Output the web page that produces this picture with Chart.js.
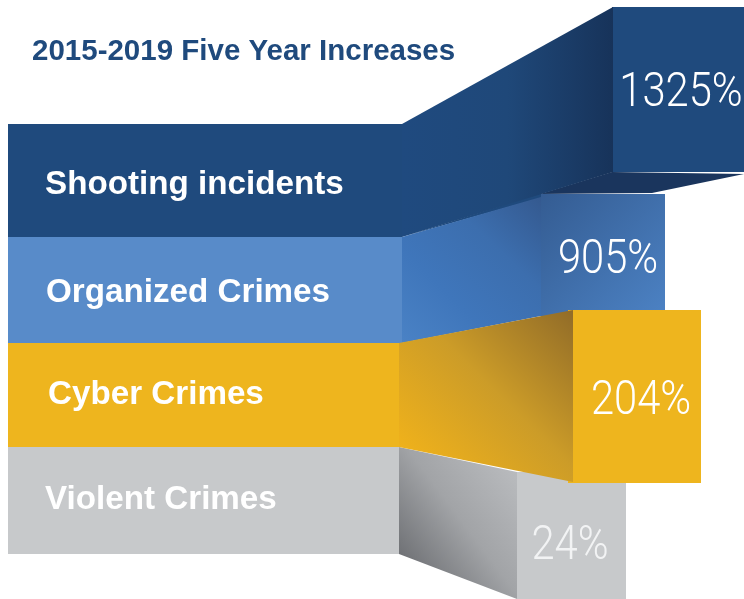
<!DOCTYPE html>
<html>
<head>
<meta charset="utf-8">
<title>2015-2019 Five Year Increases</title>
<script src="https://cdn.jsdelivr.net/npm/chart.js@4"></script>
<style>
  html, body { margin: 0; padding: 0; background: #fff; }
  canvas { display: block; }
</style>
</head>
<body>
<canvas id="funnel" width="744" height="599"></canvas>
<script>
const chartTitle = "2015-2019 Five Year Increases";
const categories = ["Shooting incidents", "Organized Crimes", "Cyber Crimes", "Violent Crimes"];
const increases = [1325, 905, 204, 24];

// shape edges, in axis units
const bandTop = [124, 237, 343, 447];
const bandBottom = [237, 343, 447, 554];
const bandRight = [402, 402, 399, 399];
const joinRight = [613, 541, 573, 517];
const joinTop = [7, 197, 310, 472];
const joinBottom = [172, 316, 482, 599];
const blockLeft = [612, 541, 568, 517];
const blockRight = [744, 665, 701, 626];
const blockTop = [7, 194, 310, 472];
const blockBottom = [172, 316, 483, 599];

const bandColors = ["#1f4a7d", "#588bc9", "#eeb51e", "#c7c9cb"];
const blockColors = [
  "#1f4a7d",
  [[541, 194, "#345c92"], [665, 316, "#4c82c4"]],
  "#eeb51e",
  "#c7c9cb"
];
const joinColors = [
  [[402, 124, "#1f4a7f"], [500, 124, "#1f4879"], [613, 124, "#17335a"]],
  [[402, 343, "#4a82c5"], [450, 300, "#3f76bb"], [495, 255, "#3c6eae"], [541, 197, "#34598f"]],
  [[410, 470, "#f2b31a"], [490, 390, "#cc9c28"], [573, 305, "#8f6a28"]],
  [[400, 560, "#6e7074"], [440, 500, "#a2a4a7"], [517, 472, "#b9bbbe"]]
];
const shadowColor = "#1a355d";

function paint(color) {
  if (typeof color === "string") return color;
  return function (context) {
    const chart = context.chart;
    if (!chart.chartArea) return color[0][2];
    const x = chart.scales.x, y = chart.scales.y;
    const first = color[0], last = color[color.length - 1];
    const g = chart.ctx.createLinearGradient(
      x.getPixelForValue(first[0]), y.getPixelForValue(first[1]),
      x.getPixelForValue(last[0]), y.getPixelForValue(last[1])
    );
    color.forEach((stop, i) => g.addColorStop(i / (color.length - 1), stop[2]));
    return g;
  };
}

function xy(xs, ys) {
  return xs.map((x, i) => ({ x: x, y: ys[i] }));
}

const datasets = [];

// an area is a pair of line datasets, filled from the upper edge to the lower one
function addArea(upper, lower, color) {
  const order = 1000 - datasets.length;
  datasets.push({
    data: upper, fill: "+1", backgroundColor: paint(color),
    borderWidth: 0, pointRadius: 0, tension: 0, order: order
  });
  datasets.push({
    data: lower, fill: false,
    borderWidth: 0, pointRadius: 0, tension: 0, order: order
  });
}

function addRow(i) {
  addArea(xy([8, bandRight[i]], [bandTop[i], bandTop[i]]),
    xy([8, bandRight[i]], [bandBottom[i], bandBottom[i]]), bandColors[i]);
  addArea(xy([blockLeft[i], blockRight[i]], [blockTop[i], blockTop[i]]),
    xy([blockLeft[i], blockRight[i]], [blockBottom[i], blockBottom[i]]), blockColors[i]);
  addArea(xy([bandRight[i], joinRight[i]], [bandTop[i], joinTop[i]]),
    xy([bandRight[i], joinRight[i]], [bandBottom[i], joinBottom[i]]), joinColors[i]);
}

// paint order: back to front
addRow(3);
addArea(xy([402, 541], [237, 193]), xy([402, 541], [237, 198]), "#1f4a7d");
addArea(xy([540, 612, 744], [194, 172, 174]), xy([540, 652, 744], [194, 193, 174]), shadowColor);
addRow(0);
addRow(1);
addRow(2);

const labelX = [45, 46, 48, 45];
const labelBaseline = [194, 302, 404, 509];
const percentCenter = [681, 608, 641, 570];
const percentBaseline = [106, 273, 414, 559];

const textPlugin = {
  id: "textPlugin",
  afterDatasetsDraw(chart) {
    const ctx = chart.ctx;
    const x = chart.scales.x, y = chart.scales.y;
    ctx.save();
    ctx.textBaseline = "alphabetic";

    ctx.textAlign = "left";
    ctx.fillStyle = "#1f4a7d";
    ctx.font = "bold 29.5px 'Liberation Sans'";
    ctx.fillText(chartTitle, x.getPixelForValue(32), y.getPixelForValue(60));

    ctx.fillStyle = "#ffffff";
    ctx.font = "bold 33.2px 'Liberation Sans'";
    categories.forEach((name, i) => {
      ctx.fillText(name, x.getPixelForValue(labelX[i]), y.getPixelForValue(labelBaseline[i]));
    });

    // the percentages are a light condensed face, squeeze Roboto Light to get there
    ctx.textAlign = "center";
    ctx.font = "300 48.5px Roboto";
    increases.forEach((value, i) => {
      ctx.save();
      ctx.fillStyle = i === 3 ? "#f2f3f4" : "#ffffff";
      ctx.translate(x.getPixelForValue(percentCenter[i]), y.getPixelForValue(percentBaseline[i]));
      ctx.scale(0.86, 1);
      ctx.fillText(value + "%", 0, 0);
      ctx.restore();
    });
    ctx.restore();
  }
};

new Chart(document.getElementById("funnel"), {
  type: "line",
  data: { datasets: datasets },
  plugins: [textPlugin],
  options: {
    responsive: false,
    animation: false,
    parsing: false,
    normalized: true,
    layout: { padding: 0 },
    plugins: {
      legend: { display: false },
      tooltip: { enabled: false },
      filler: { propagate: false }
    },
    scales: {
      x: { type: "linear", min: 0, max: 744, display: false },
      y: { type: "linear", min: 0, max: 599, reverse: true, display: false }
    }
  }
});
</script>
</body>
</html>
